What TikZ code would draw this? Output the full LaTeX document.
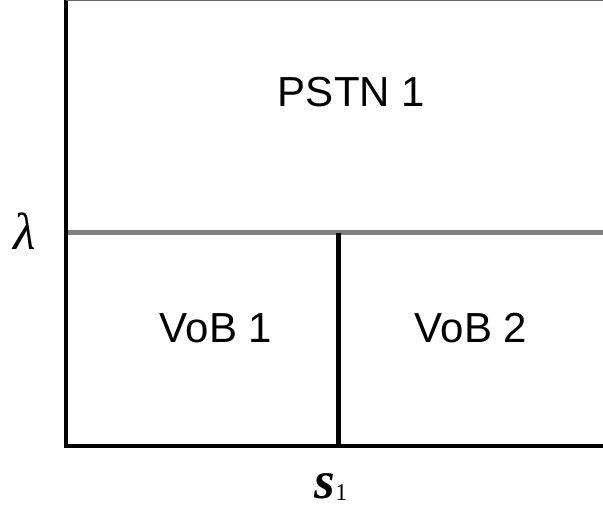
\documentclass[tikz,border=0pt]{standalone}
\usepackage{fontspec}
\setmainfont{Liberation Sans}
\newfontfamily\serifit{Liberation Serif}
\begin{document}
\begin{tikzpicture}[x=1pt,y=-1pt,
  blackline/.style={line width=5pt,black},
  grayline/.style={line width=5pt,color={rgb,255:red,128;green,128;blue,128}},
  lbl/.style={font=\fontsize{42}{48}\selectfont,anchor=base,inner sep=0pt}]
\useasboundingbox (0,0) rectangle (603,511);
\coordinate (tl) at (66,0);
\coordinate (bl) at (66,446);
\coordinate (br) at (603,446);
\coordinate (gl) at (66,232.5);
\coordinate (gr) at (603,232.5);
\coordinate (mt) at (338,232.5);
\coordinate (mb) at (338,446);
\coordinate (tr) at (603,0.5);
\draw[grayline] (gl) -- (gr);
\draw[blackline] (mt) -- (mb);
\draw[blackline,line width=4.5pt] (tl) -- (bl) -- (br);
\draw[black!60,line width=1pt] (66,0.5) -- (tr);
\node[lbl] (pstn) at (351.5,106.5) {PSTN 1};
\node[lbl] (vob1) at (216,342.5) {VoB 1};
\node[lbl] (vob2) at (471,342.5) {VoB 2};
\node[inner sep=0pt] (lam) at (25,231) {\serifit\itshape\fontsize{52}{56}\selectfont λ};
\node[inner sep=0pt,anchor=base] (s1) at (331,498) {\serifit\fontsize{53}{56}\selectfont\bfseries\itshape s\normalfont\serifit\fontsize{24}{26}\selectfont\raisebox{-2pt}{1}};
\end{tikzpicture}
\end{document}
